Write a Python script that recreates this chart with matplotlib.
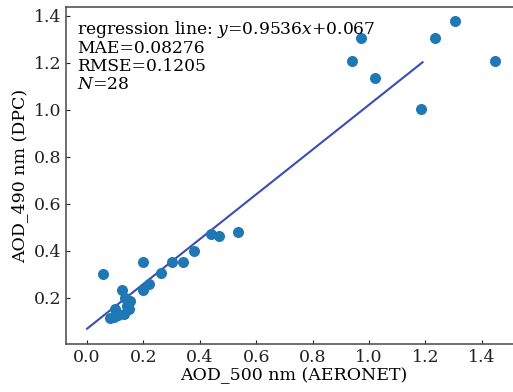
import matplotlib
matplotlib.use("Agg")
import matplotlib.pyplot as plt
import numpy as np

# AERONET (x) vs DPC (y) AOD matchups
aod_aeronet = [0.055, 0.94, 0.97, 1.02, 1.186, 1.235, 1.306, 1.448,
               0.197, 0.537, 0.439, 0.467, 0.378, 0.341, 0.303, 0.264,
               0.219, 0.199, 0.124, 0.135, 0.152, 0.150, 0.132, 0.099,
               0.081, 0.096, 0.143, 0.110]
aod_dpc = [0.302, 1.207, 1.305, 1.134, 1.002, 1.305, 1.377, 1.207,
           0.353, 0.481, 0.472, 0.461, 0.398, 0.353, 0.353, 0.303,
           0.259, 0.232, 0.232, 0.199, 0.185, 0.149, 0.128, 0.149,
           0.114, 0.118, 0.165, 0.125]

slope = 0.9536
intercept = 0.067
fit_x = [0.0, 1.19]
stats_text = ("regression line: $y$=0.9536$x$+0.067\n"
              "MAE=0.08276\nRMSE=0.1205\n$N$=28")

plt.rcParams["font.family"] = "DejaVu Serif"
plt.rcParams["mathtext.fontset"] = "dejavuserif"

fig = plt.figure(figsize=(5.13, 3.92), dpi=100)
# right edge of the axes runs past the figure (cropped in the original)
ax = fig.add_axes([66 / 513, 48 / 392, 456 / 513, 337 / 392])

fx = np.array(fit_x)
ax.plot(fx, slope * fx + intercept, color="#3a4db3", lw=1.5)
ax.scatter(aod_aeronet, aod_dpc, s=48, color="#1f77b4", zorder=3)

ax.set_xlim(-0.0745, 1.5425)
ax.set_ylim(0.002, 1.437)
ax.set_xticks(np.arange(0, 1.41, 0.2))
ax.set_yticks(np.arange(0.2, 1.41, 0.2))
ax.tick_params(direction="in", length=3, labelsize=12.5, colors="#222222")
for sp in ax.spines.values():
    sp.set_color("#555555")
    sp.set_linewidth(1.2)

ax.set_xlabel("AOD_500 nm (AERONET)", fontsize=12.5, labelpad=1)
ax.set_ylabel("AOD_490 nm (DPC)", fontsize=12.5, labelpad=4)
ax.text(0.025, 0.965, stats_text, transform=ax.transAxes, fontsize=12.3,
        va="top", ha="left", linespacing=1.05)

fig.savefig("out.png", dpi=100)
